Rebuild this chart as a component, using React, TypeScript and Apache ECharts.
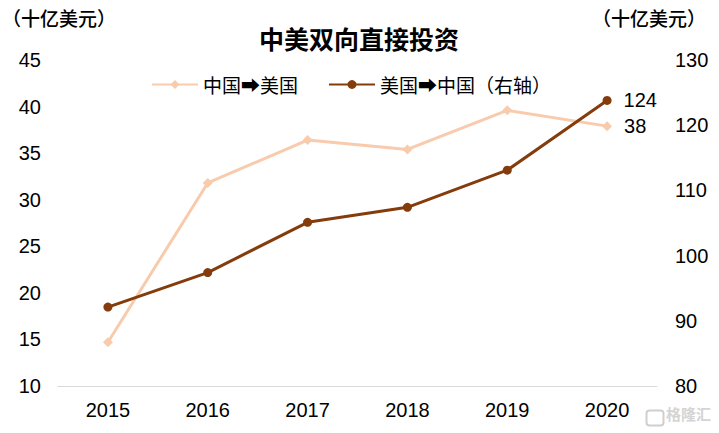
import React, { useEffect, useRef } from "react";
import * as echarts from "echarts";

const years = ["2015", "2016", "2017", "2018", "2019", "2020"];
const chinaToUS = [14.7, 31.8, 36.4, 35.4, 39.6, 37.9];
const usToChina = [92.1, 97.4, 105.1, 107.4, 113.1, 123.8];
const chinaToUSLabel = "38";
const usToChinaLabel = "124";

const LIGHT = "#F8CBAD";
const DARK = "#843C0C";
const FONT = "'Liberation Sans', Arial, 'Noto Sans CJK SC', sans-serif";
const CJK = "'Noto Sans CJK SC', sans-serif";

export default function App() {
  const ref = useRef<HTMLDivElement>(null);
  useEffect(() => {
    if (!ref.current) return;
    const chart = echarts.init(ref.current, undefined, { renderer: "svg" });
    chart.setOption({
      animation: false,
      backgroundColor: "#fff",
      title: {
        text: "中美双向直接投资",
        left: 354,
        top: 20,
        textAlign: "center",
        textStyle: { fontSize: 25, fontWeight: "bold", color: "#000", fontFamily: CJK },
      },
      legend: {
        top: 70,
        left: 146,
        itemGap: 30,
        itemWidth: 46,
        itemHeight: 11,
        textStyle: { fontSize: 19, color: "#000", fontFamily: CJK },
        data: ["中国➡美国", "美国➡中国（右轴）"],
      },
      graphic: [
        {
          type: "text",
          left: 2,
          top: 8,
          style: { text: "（十亿美元）", fill: "#000", font: "500 19px 'Noto Sans CJK SC', sans-serif" },
        },
        {
          type: "text",
          left: 592,
          top: 8,
          style: { text: "（十亿美元）", fill: "#000", font: "500 19px 'Noto Sans CJK SC', sans-serif" },
        },
        {
          type: "rect",
          left: 644,
          top: 408,
          shape: { width: 17, height: 15, r: 3 },
          style: { fill: "none", stroke: "#cfcfcf", lineWidth: 2 },
        },
        {
          type: "text",
          left: 666,
          top: 406,
          style: { text: "格隆汇", fill: "#d4d4d4", font: "bold 15px 'Noto Sans CJK SC', sans-serif" },
        },
      ],
      grid: { left: 58, right: 62, top: 60, bottom: 47, containLabel: false },
      xAxis: {
        type: "category",
        data: years,
        boundaryGap: true,
        axisLine: { show: true, lineStyle: { color: "#d9d9d9", width: 1 } },
        axisTick: { show: false },
        axisLabel: { fontSize: 20, color: "#000", margin: 14, fontFamily: FONT },
      },
      yAxis: [
        {
          type: "value",
          min: 10,
          max: 45,
          interval: 5,
          splitLine: { show: false },
          axisLine: { show: false },
          axisTick: { show: false },
          axisLabel: { fontSize: 20, color: "#000", margin: 17, fontFamily: FONT },
        },
        {
          type: "value",
          min: 80,
          max: 130,
          interval: 10,
          splitLine: { show: false },
          axisLine: { show: false },
          axisTick: { show: false },
          axisLabel: { fontSize: 20, color: "#000", margin: 18, fontFamily: FONT },
        },
      ],
      series: [
        {
          name: "中国➡美国",
          type: "line",
          yAxisIndex: 0,
          data: chinaToUS.map((v, i) =>
            i === chinaToUS.length - 1
              ? { value: v, label: { show: true, formatter: chinaToUSLabel } }
              : v
          ),
          symbol: "diamond",
          symbolSize: 10,
          lineStyle: { color: LIGHT, width: 3 },
          itemStyle: { color: LIGHT },
          label: { show: false, position: "right", distance: 12, fontSize: 20, color: "#000", fontFamily: FONT },
        },
        {
          name: "美国➡中国（右轴）",
          type: "line",
          yAxisIndex: 1,
          data: usToChina.map((v, i) =>
            i === usToChina.length - 1
              ? { value: v, label: { show: true, formatter: usToChinaLabel } }
              : v
          ),
          symbol: "circle",
          symbolSize: 9,
          lineStyle: { color: DARK, width: 3 },
          itemStyle: { color: DARK },
          label: { show: false, position: "right", distance: 12, fontSize: 20, color: "#000", fontFamily: FONT },
        },
      ],
    });
    return () => chart.dispose();
  }, []);
  return (
    <div
      ref={ref}
      style={{ position: "fixed", left: 0, top: 0, width: 719, height: 433 }}
    />
  );
}
